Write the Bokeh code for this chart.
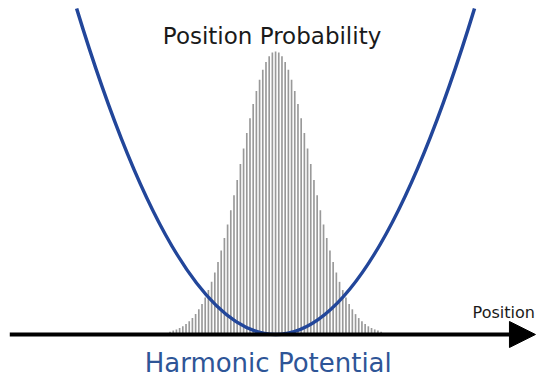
from bokeh.plotting import figure
from bokeh.models import Range1d, Label, Arrow, NormalHead
from bokeh.embed import file_html
from bokeh.resources import INLINE

# Position probability histogram: one bar per position step, peak normalised to 100
positions = list(range(-33, 34))
half_profile = [100, 99.6, 98.3, 96.3, 93.5, 90.0, 86.0, 81.4, 76.4, 71.2, 65.7,
                60.2, 54.6, 49.2, 43.9, 38.9, 34.1, 29.7, 25.6, 21.9, 18.6,
                15.7, 13.1, 10.8, 8.9, 7.2, 5.8, 4.7, 3.7, 2.9, 2.3, 1.8, 1.4, 1.0]
probability = half_profile[:0:-1] + half_profile

# Harmonic potential: parabola between two wall points, drawn as a quadratic Bezier
wall_x = [-62.2, 62.2]
wall_height = 115.2
vertex_x = 0.0

# Position axis extent
axis_start, axis_end = -83.1, 81.25

title_text = "Position Probability"
axis_text = "Position"
potential_text = "Harmonic Potential"

p = figure(width=538, height=379, output_backend="svg", toolbar_location=None,
           x_range=Range1d(-86.0, 82.2), y_range=Range1d(-15.9, 118.0),
           x_axis_location=None, y_axis_location=None,
           min_border=0, min_border_left=0, min_border_right=0,
           min_border_top=0, min_border_bottom=0)
p.outline_line_color = None
p.grid.visible = False
p.background_fill_color = "white"
p.border_fill_color = "white"

# histogram bars
p.vbar(x=positions, top=probability, bottom=0, width=0.52,
       fill_color="#999999", line_color=None)

# position axis with arrow head
p.add_layout(Arrow(x_start=axis_start, y_start=0, x_end=axis_end, y_end=0,
                   line_color="black", line_width=4,
                   end=NormalHead(size=26, fill_color="black", line_color="black",
                                  line_width=1)))

# harmonic potential curve
p.quadratic(x0=[wall_x[0]], y0=[wall_height], x1=[wall_x[1]], y1=[wall_height],
            cx=[vertex_x], cy=[-wall_height], line_color="#22469a", line_width=3.5)

p.add_layout(Label(x=-1.1, y=105.3, text=title_text, text_align="center",
                   text_baseline="alphabetic", text_font="DejaVu Sans",
                   text_font_size="23px", text_color="#1a1a1a"))
p.add_layout(Label(x=61.6, y=7.7, text=axis_text, text_align="left",
                   text_baseline="alphabetic", text_font="DejaVu Sans",
                   text_font_size="16px", text_color="#1a1a1a"))
p.add_layout(Label(x=-2.3, y=-10.0, text=potential_text, text_align="center",
                   text_baseline="alphabetic", text_font="DejaVu Sans",
                   text_font_size="26px", text_color="#2e5597"))

open("out.html", "w").write(file_html(p, INLINE))
